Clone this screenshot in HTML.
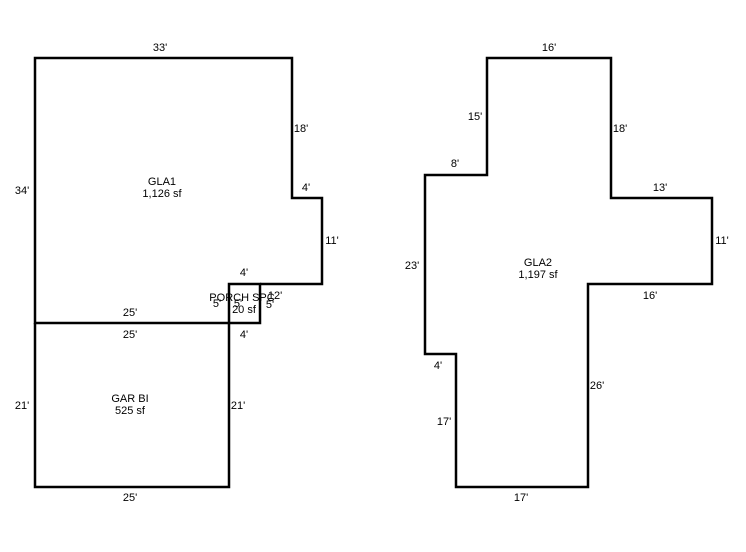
<!DOCTYPE html>
<html><head><style>body{margin:0;background:#fff}svg text{font-family:"Liberation Sans",sans-serif;font-size:11px;fill:#000}</style></head><body>
<svg width="746" height="547" viewBox="0 0 746 547" xmlns="http://www.w3.org/2000/svg">
<g fill="none" stroke="#000" stroke-width="2.5" stroke-linejoin="miter">
<polyline points="229,323 35,323 35,58 292,58 292,198 322,198 322,284 260,284"/>
<rect x="229" y="284" width="31" height="39"/>
<polyline points="35,323 35,487 229,487 229,323"/>
<polygon points="487,58 611,58 611,198 712,198 712,284 588,284 588,487 456,487 456,354 425,354 425,175 487,175"/>
</g>
<g text-anchor="middle">
<text x="160" y="51">33'</text>
<text x="22" y="194">34'</text>
<text x="301" y="132">18'</text>
<text x="306" y="191">4'</text>
<text x="332" y="244">11'</text>
<text x="244" y="276">4'</text>
<text x="275" y="299">12'</text>
<text x="270" y="308">5'</text>
<text x="217" y="307">5'</text>
<text x="238" y="307">5'</text>
<text x="242" y="301">PORCH SPC</text>
<text x="244" y="313">20 sf</text>
<text x="244" y="338">4'</text>
<text x="130" y="316">25'</text>
<text x="130" y="338">25'</text>
<text x="162" y="185">GLA1</text>
<text x="162" y="197">1,126 sf</text>
<text x="22" y="409">21'</text>
<text x="238" y="409">21'</text>
<text x="130" y="402">GAR BI</text>
<text x="130" y="414">525 sf</text>
<text x="130" y="501">25'</text>
<text x="549" y="51">16'</text>
<text x="475" y="120">15'</text>
<text x="620" y="132">18'</text>
<text x="455" y="167">8'</text>
<text x="660" y="191">13'</text>
<text x="722" y="244">11'</text>
<text x="412" y="269">23'</text>
<text x="538" y="266">GLA2</text>
<text x="538" y="278">1,197 sf</text>
<text x="650" y="299">16'</text>
<text x="438" y="369">4'</text>
<text x="597" y="389">26'</text>
<text x="444" y="425">17'</text>
<text x="521" y="501">17'</text>
</g>
</svg>
</body></html>
